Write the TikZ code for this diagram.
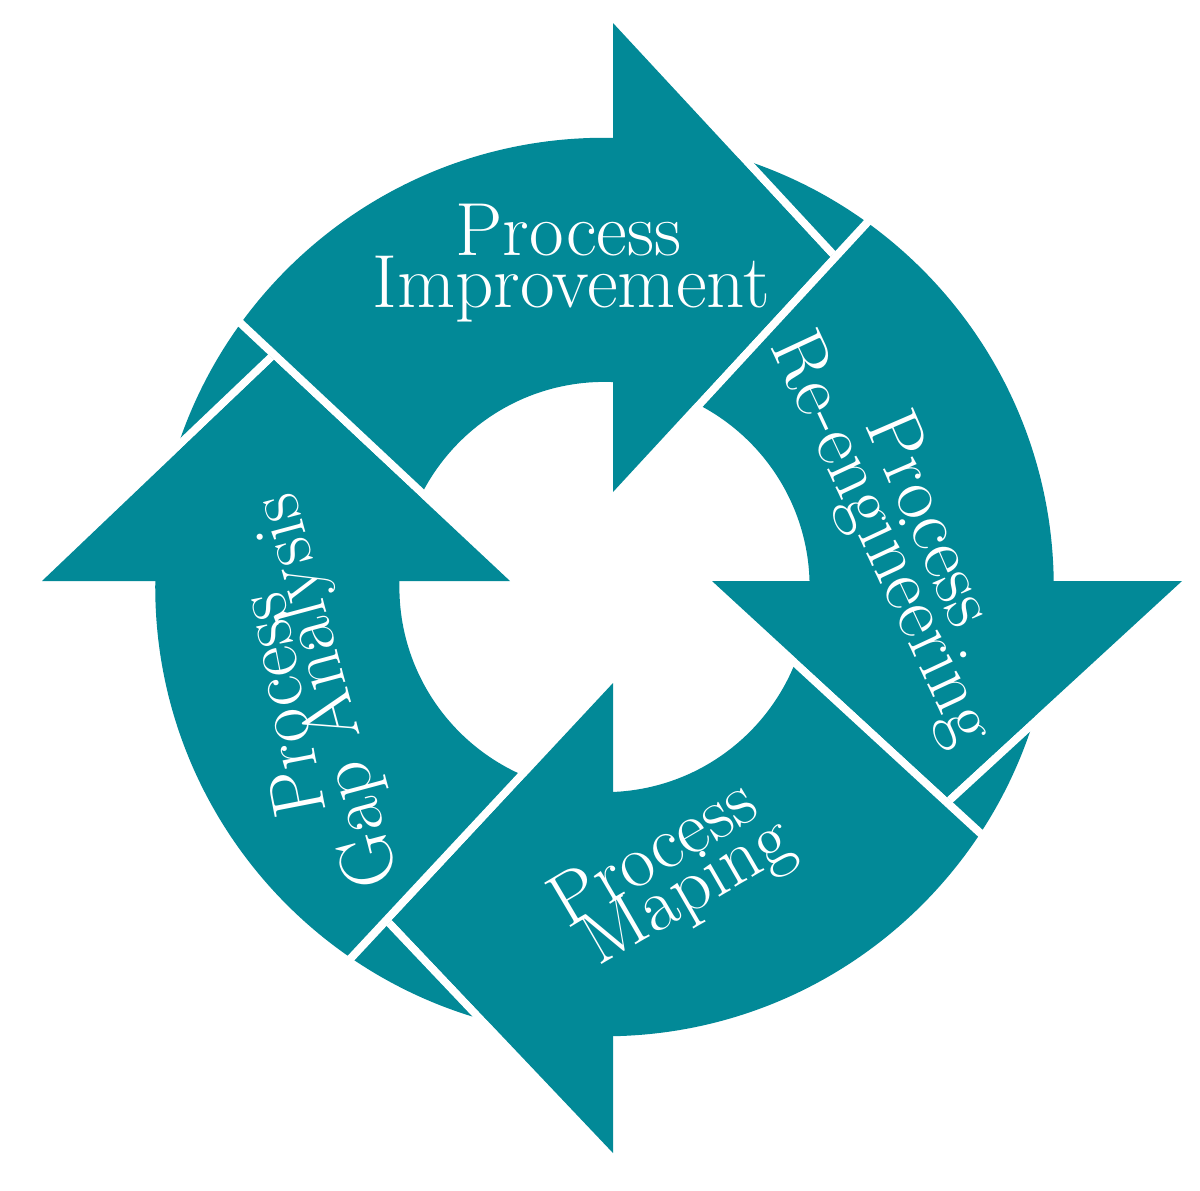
\documentclass[tikz,border=0pt]{standalone}
\usetikzlibrary{calc}
\definecolor{tealc}{RGB}{2,137,151}
\tikzset{
  ringpart/.style={fill=tealc, even odd rule},
  headpart/.style={fill=tealc},
  gapband/.style={fill=white},
  lbl/.style={text=white, font=\fontsize{21.4}{20}\selectfont, inner sep=0pt, anchor=base}
}
\begin{document}
\begin{tikzpicture}[x=0.01cm,y=-0.01cm]
\useasboundingbox (0,0) rectangle (1200,1190);
\coordinate (C) at (604.5,587);
% ring
\fill[ringpart] (C) circle[radius=4.49cm] (C) circle[radius=2.05cm];

% arrowhead corners: outer (O), inner (I), tip (T), cut end (E)
\coordinate (tO) at (613,23);   \coordinate (tI) at (613,492);  \coordinate (tT) at (830,257);  \coordinate (tE) at (884.2,198.2);
\coordinate (rO) at (1182,581); \coordinate (rI) at (712,581);  \coordinate (rT) at (947,797);  \coordinate (rE) at (1005.9,851.2);
\coordinate (bO) at (613,1153); \coordinate (bI) at (613,683);  \coordinate (bT) at (392,920);  \coordinate (bE) at (337.4,978.5);
\coordinate (lO) at (42,581);   \coordinate (lI) at (510,581);  \coordinate (lT) at (274,360);  \coordinate (lE) at (215.6,305.3);

% white gaps along the outer edges of the heads
\fill[gapband] (tO) -- (tT) -- ++(5.86,-5.44) -- ($(tO)+(5.86,-5.44)$) -- cycle;
\fill[gapband] (rO) -- (rT) -- ++(5.42,5.89) -- ($(rO)+(5.42,5.89)$) -- cycle;
\fill[gapband] (bO) -- (bT) -- ++(-5.81,5.5) -- ($(bO)+(-5.81,5.5)$) -- cycle;
\fill[gapband] (lO) -- (lT) -- ++(-5.52,-5.79) -- ($(lO)+(-5.52,-5.79)$) -- cycle;

% white cuts along the inner edges, through the ring
\fill[gapband] (tI) -- (tE) -- ++(5.88,5.42) -- ($(tI)+(5.88,5.42)$) -- cycle;
\fill[gapband] (rI) -- (rE) -- ++(-5.42,5.89) -- ($(rI)+(-5.42,5.89)$) -- cycle;
\fill[gapband] (bI) -- (bE) -- ++(-5.85,-5.46) -- ($(bI)+(-5.85,-5.46)$) -- cycle;
\fill[gapband] (lI) -- (lE) -- ++(5.47,-5.84) -- ($(lI)+(5.47,-5.84)$) -- cycle;

% arrowheads
\fill[headpart] (tO) -- (tT) -- (tI) -- cycle;
\fill[headpart] (rO) -- (rT) -- (rI) -- cycle;
\fill[headpart] (bO) -- (bT) -- (bI) -- cycle;
\fill[headpart] (lO) -- (lT) -- (lI) -- cycle;

% labels
\node[lbl] (t1) at (568.5,255) {Process};
\node[lbl] (t2) at (571,307) {Improvement};
\node[lbl, rotate=-66.6] (r1) at (909,528) {Process};
\node[lbl, rotate=-65] (r2) at (863.5,547) {Re-engineering};
\node[lbl, rotate=101] (l1) at (304.5,701) {Process};
\node[lbl, rotate=105] (l2) at (346.7,685.4) {Gap Analysis};
\node[lbl, rotate=30.6] (b1) at (664.7,872.5) {Process};
\node[lbl, rotate=30] (b2) at (698,909.4) {Maping};
\end{tikzpicture}
\end{document}
